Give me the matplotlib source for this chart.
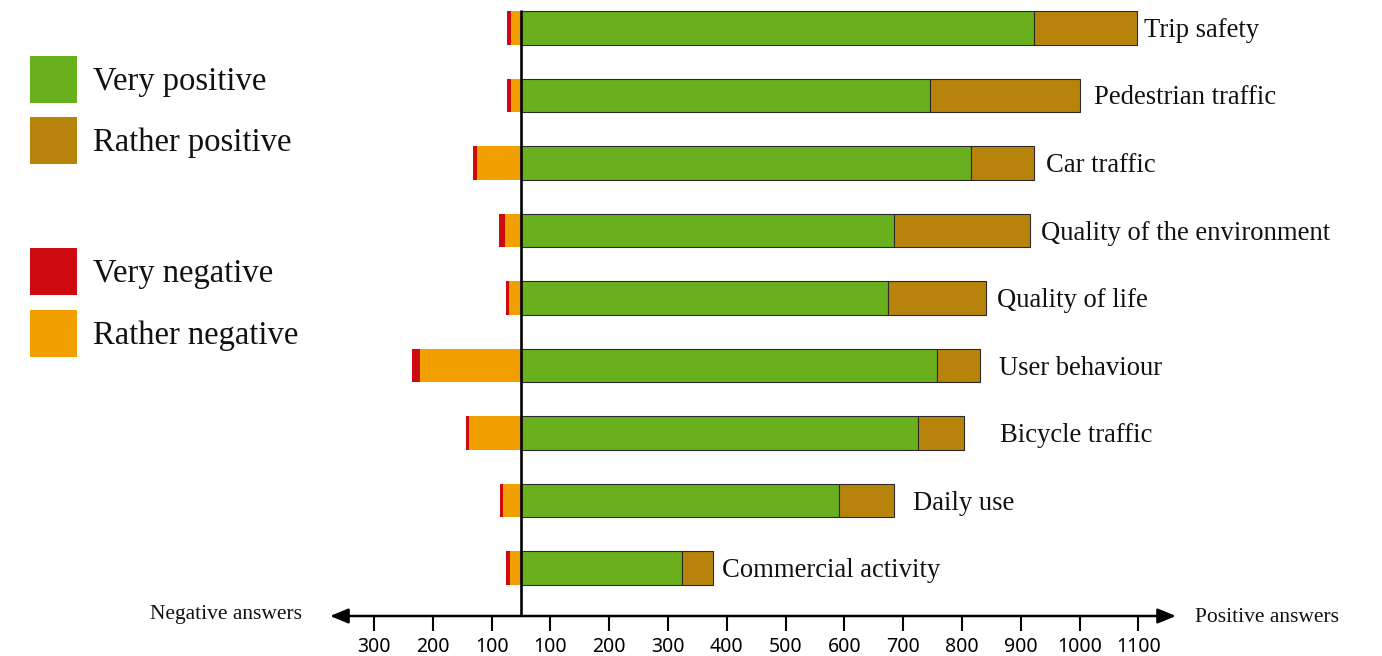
import matplotlib
matplotlib.use("Agg")
import matplotlib.pyplot as plt
from matplotlib.patches import Rectangle

# ---------------- data ----------------
categories = ["Trip safety", "Pedestrian traffic", "Car traffic",
              "Quality of the environment", "Quality of life", "User behaviour",
              "Bicycle traffic", "Daily use", "Commercial activity"]
very_positive = [873, 696, 765, 634, 624, 707, 675, 540, 273]
rather_positive = [175, 255, 107, 232, 166, 73, 78, 94, 54]
rather_negative = [17, 17, 75, 28, 20, 172, 88, 31, 19]
very_negative = [6, 6, 6, 10, 6, 14, 5, 5, 7]
pos_tick_labels = [100, 200, 300, 400, 500, 600, 700, 800, 900, 1000, 1100]
neg_tick_labels = [100, 200, 300]
legend_labels = ["Very positive", "Rather positive", "Very negative", "Rather negative"]

# ---------------- style ----------------
C_VPOS = "#6AAF1E"
C_RPOS = "#B8830B"
C_VNEG = "#CC0A10"
C_RNEG = "#F2A000"
SERIF = ["Liberation Serif", "DejaVu Serif"]
SANS = ["Noto Sans", "DejaVu Sans"]

W, H = 1382, 656
fig = plt.figure(figsize=(W / 100, H / 100), dpi=100)

ZERO_PX = 521.0
PX_PER_UNIT = 0.588
ROW0_PX = 28.0
ROW_PX = 67.5
AXIS_PX = 616.0

ax = fig.add_axes([0, (H - AXIS_PX) / H, 1, AXIS_PX / H])
ax.set_xlim(-ZERO_PX / PX_PER_UNIT, (W - ZERO_PX) / PX_PER_UNIT)
ax.set_ylim((AXIS_PX - ROW0_PX) / ROW_PX, -ROW0_PX / ROW_PX)

n = len(categories)
ys = list(range(n))
bh = 0.5

ax.barh(ys, very_positive, height=bh, left=0, color=C_VPOS,
        edgecolor="#2a2a2a", linewidth=0.8, zorder=2)
ax.barh(ys, rather_positive, height=bh, left=very_positive, color=C_RPOS,
        edgecolor="#2a2a2a", linewidth=0.8, zorder=2)
ax.barh(ys, [-v for v in rather_negative], height=bh, left=0, color=C_RNEG,
        linewidth=0, zorder=2)
ax.barh(ys, [-v for v in very_negative], height=bh,
        left=[-v for v in rather_negative], color=C_VNEG, linewidth=0, zorder=2)

# category labels to the right of each bar
label_gap_px = [7, 14, 12, 11, 11, 19, 36, 19, 9]
for i, (cat, vp, rp) in enumerate(zip(categories, very_positive, rather_positive)):
    ax.annotate(cat, xy=(vp + rp, i), xytext=(label_gap_px[i] * 0.72, -2.5 * 0.72),
                textcoords="offset points", ha="left", va="center",
                fontsize=19.2, family=SERIF, color="#111111")

# central vertical line
ax.plot([0, 0], [-ROW0_PX / ROW_PX + 10 / ROW_PX, (AXIS_PX - ROW0_PX) / ROW_PX],
        color="black", lw=1.9, zorder=3, solid_capstyle="butt", clip_on=False)

# x ticks (the centre line sits between the two "100" ticks)
tick_pos = [-(k - 50) for k in neg_tick_labels] + [(k - 50) for k in pos_tick_labels]
tick_lab = [str(k) for k in neg_tick_labels] + [str(k) for k in pos_tick_labels]
ax.set_xticks(tick_pos)
ax.set_xticklabels(tick_lab, family=SANS, fontsize=14)
ax.tick_params(axis="x", direction="out", length=11, width=1.5, pad=4, color="black")
ax.set_yticks([])
for s in ax.spines.values():
    s.set_visible(False)
ax.patch.set_alpha(0)

# double arrow axis line
left_tip = (330 - ZERO_PX) / PX_PER_UNIT
right_tip = (1176 - ZERO_PX) / PX_PER_UNIT
ax.annotate("", xy=(left_tip, 0.0), xycoords=("data", "axes fraction"),
            xytext=(right_tip, 0.0), textcoords=("data", "axes fraction"),
            arrowprops=dict(arrowstyle="<|-|>,head_length=1.1,head_width=0.45",
                            color="black", lw=1.8, shrinkA=0, shrinkB=0),
            annotation_clip=False)

fig.text(150 / W, 1 - 615 / H, "Negative answers", ha="left", va="center",
         fontsize=15.5, family=SERIF, color="#111111")
fig.text(1195 / W, 1 - 617 / H, "Positive answers", ha="left", va="center",
         fontsize=15.5, family=SERIF, color="#111111")

# legend (manual, with a gap between the groups)
leg_colors = [C_VPOS, C_RPOS, C_VNEG, C_RNEG]
leg_tops = [56, 117, 248, 310]
for lab, col, top in zip(legend_labels, leg_colors, leg_tops):
    fig.add_artist(Rectangle((30 / W, 1 - (top + 47) / H), 47 / W, 47 / H,
                             transform=fig.transFigure, facecolor=col,
                             edgecolor="none"))
    fig.text(93 / W, 1 - (top + 25.5) / H, lab, ha="left", va="center",
             fontsize=23.5, family=SERIF, color="#111111")

fig.savefig("out.png", dpi=100)
